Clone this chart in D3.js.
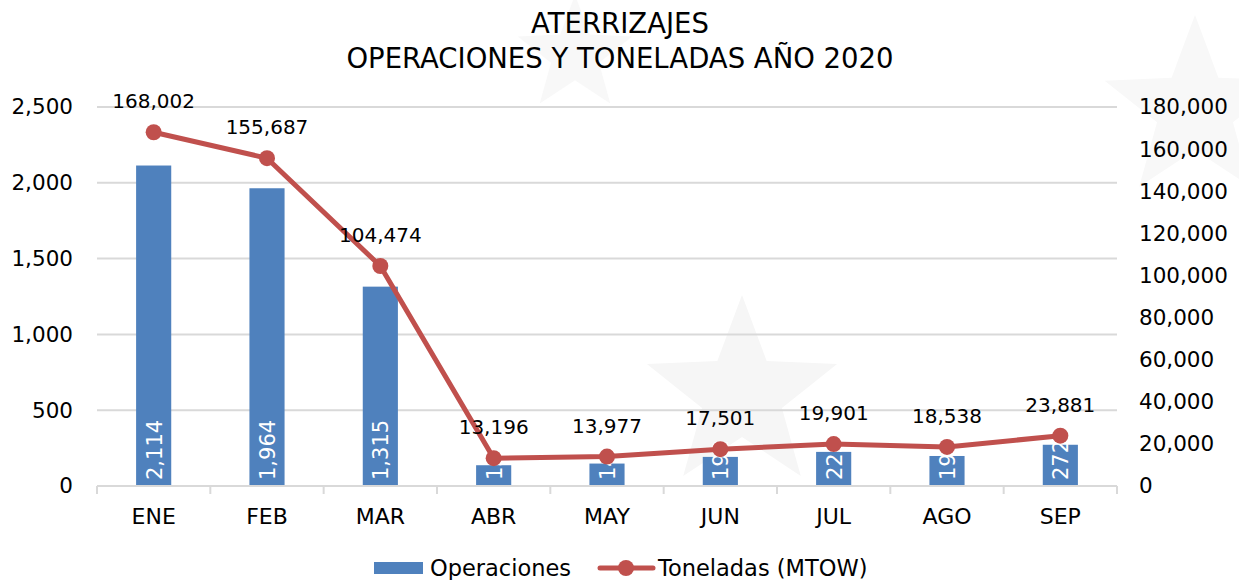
<!DOCTYPE html>
<html>
<head>
<meta charset="utf-8">
<script src="https://cdn.jsdelivr.net/npm/d3@7"></script>
<style>
body{margin:0;background:#fff;}
svg{font-family:"DejaVu Sans",sans-serif;}
</style>
</head>
<body>
<div id="chart"></div>
<script>
(function(){

var width = 1239,
	height = 580;

// data
var months = ["ENE","FEB","MAR","ABR","MAY","JUN","JUL","AGO","SEP"];
var operaciones = [2114,1964,1315,137,148,192,225,198,272];
var toneladas = [168002,155687,104474,13196,13977,17501,19901,18538,23881];
var leftTicks = [0,500,1000,1500,2000,2500];
var rightTicks = [0,20000,40000,60000,80000,100000,120000,140000,160000,180000];

var barcolor = "#4f81bd",
	linecolor = "#c0504d",
	gridcolor = "#d9d9d9",
	fontsize = "20px",
	axisfont = "21.5px";

var plot = {left:97, right:1117, top:107, bottom:486};

var X = d3.scaleBand().domain(months).range([plot.left,plot.right]).paddingInner(0.69).paddingOuter(0.345);
var B = d3.scaleBand().domain(months).range([plot.left,plot.right]);
var Y = d3.scaleLinear().domain([0,2500]).range([plot.bottom,plot.top]);
var Y2 = d3.scaleLinear().domain([0,180000]).range([plot.bottom,plot.top]);
var fmt = d3.format(",");

var svg = d3.select("#chart").append("svg")
	.attr("width",width)
	.attr("height",height);

// faint watermark stars in the background
function star(cx,cy,r){
	var pts = d3.range(10).map(function(i){
		var a = -Math.PI/2 + i*Math.PI/5, rr = i%2 ? r*0.42 : r;
		return [cx+rr*Math.cos(a), cy+rr*Math.sin(a)];
	});
	return "M"+pts.join("L")+"Z";
}
svg.append("path").attr("d",star(742,395,100)).style("fill","#f6f6f6");
svg.append("path").attr("d",star(575,55,60)).style("fill","#f8f8f8");
svg.append("path").attr("d",star(1195,110,95)).style("fill","#f8f8f8");

// title
svg.append("text").attr("x",620).attr("y",33).attr("text-anchor","middle")
	.style("font-size","27.5px").style("fill","#000").text("ATERRIZAJES");
svg.append("text").attr("x",620).attr("y",68).attr("text-anchor","middle")
	.style("font-size","27.5px").style("fill","#000").text("OPERACIONES Y TONELADAS AÑO 2020");

// gridlines
svg.selectAll(".grid").data(leftTicks.slice(1)).enter().append("line")
	.attr("x1",plot.left).attr("x2",plot.right)
	.attr("y1",function(d){return Y(d)}).attr("y2",function(d){return Y(d)})
	.style("stroke",gridcolor).style("stroke-width",2);

// left axis
var ax = svg.append("g").attr("transform","translate("+(plot.left-16)+",0)")
	.call(d3.axisLeft(Y).tickValues(leftTicks).tickFormat(fmt).tickSize(0).tickPadding(8));
ax.select(".domain").remove();
ax.selectAll("text").style("font-size",axisfont).style("fill","#000").style("font-family","DejaVu Sans,sans-serif");

// right axis
var ax2 = svg.append("g").attr("transform","translate("+(plot.right+22)+",0)")
	.call(d3.axisRight(Y2).tickValues(rightTicks).tickFormat(fmt).tickSize(0).tickPadding(0));
ax2.select(".domain").remove();
ax2.selectAll("text").style("font-size",axisfont).style("fill","#000").style("font-family","DejaVu Sans,sans-serif");

// bars
svg.selectAll(".bar").data(operaciones).enter().append("rect")
	.attr("x",function(d,i){return X(months[i])})
	.attr("width",X.bandwidth())
	.attr("y",function(d){return Y(d)})
	.attr("height",function(d){return plot.bottom-Y(d)})
	.style("fill",barcolor);

// bar labels, rotated, inside base
svg.selectAll(".barlabel").data(operaciones).enter().append("text")
	.attr("transform",function(d,i){
		return "translate("+(X(months[i])+X.bandwidth()/2+8)+","+(plot.bottom-6)+") rotate(-90)";
	})
	.style("font-size","21px").style("fill","#fff")
	.text(function(d){return fmt(d)});

// x axis
svg.append("line").attr("x1",plot.left).attr("x2",plot.right)
	.attr("y1",plot.bottom).attr("y2",plot.bottom)
	.style("stroke",gridcolor).style("stroke-width",2);
svg.selectAll(".xtick").data(months.concat(["end"])).enter().append("line")
	.attr("x1",function(d,i){return plot.left+i*B.bandwidth()})
	.attr("x2",function(d,i){return plot.left+i*B.bandwidth()})
	.attr("y1",plot.bottom).attr("y2",plot.bottom+8)
	.style("stroke",gridcolor).style("stroke-width",2);
svg.selectAll(".xlabel").data(months).enter().append("text")
	.attr("x",function(d){return B(d)+B.bandwidth()/2})
	.attr("y",524).attr("text-anchor","middle")
	.style("font-size","22px").style("fill","#000")
	.text(function(d){return d});

// line
var line = d3.line()
	.x(function(d,i){return B(months[i])+B.bandwidth()/2})
	.y(function(d){return Y2(d)});
svg.append("path").datum(toneladas).attr("d",line)
	.style("fill","none").style("stroke",linecolor).style("stroke-width",5).style("stroke-linejoin","round");
svg.selectAll(".dot").data(toneladas).enter().append("circle")
	.attr("cx",function(d,i){return B(months[i])+B.bandwidth()/2})
	.attr("cy",function(d){return Y2(d)})
	.attr("r",8).style("fill",linecolor);
svg.selectAll(".linelabel").data(toneladas).enter().append("text")
	.attr("x",function(d,i){return B(months[i])+B.bandwidth()/2})
	.attr("y",function(d){return Y2(d)-24})
	.attr("text-anchor","middle")
	.style("font-size",fontsize).style("fill","#000")
	.text(function(d){return fmt(d)});

// legend
svg.append("rect").attr("x",374).attr("y",562).attr("width",49).attr("height",12).style("fill",barcolor);
svg.append("text").attr("x",430).attr("y",576).style("font-size","22.5px").style("fill","#000").text("Operaciones");
svg.append("line").attr("x1",600).attr("x2",653).attr("y1",568).attr("y2",568)
	.style("stroke",linecolor).style("stroke-width",5).style("stroke-linecap","round");
svg.append("circle").attr("cx",626).attr("cy",568).attr("r",8).style("fill",linecolor);
svg.append("text").attr("x",658).attr("y",576).style("font-size","22.5px").style("fill","#000").text("Toneladas (MTOW)");

})()
</script>
</body>
</html>
